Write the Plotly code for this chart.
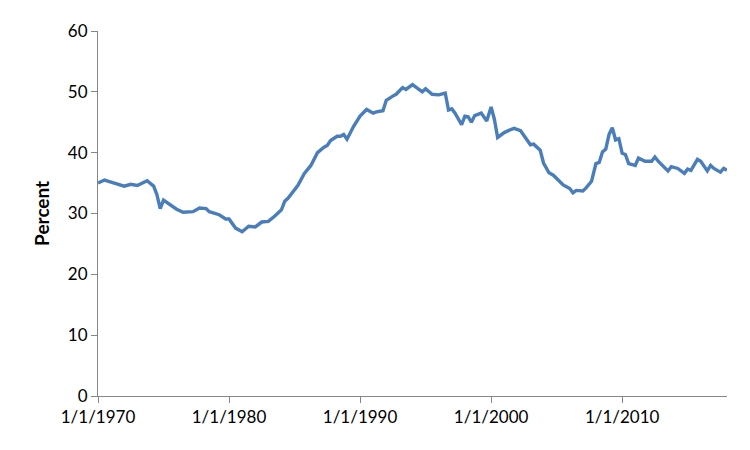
import plotly.graph_objects as go

dates = [
    "1970-01-01", "1970-07-01", "1971-04-01", "1972-01-01", "1972-07-01", "1973-01-01",
    "1973-10-01", "1974-04-01", "1974-07-01", "1974-10-01", "1975-01-01", "1975-07-01",
    "1976-01-01", "1976-07-01", "1977-04-01", "1977-10-01", "1978-04-01", "1978-07-01",
    "1979-04-01", "1979-10-01", "1980-01-01", "1980-07-01", "1981-01-01", "1981-07-01",
    "1982-01-01", "1982-07-01", "1983-01-01", "1983-07-01", "1984-01-01", "1984-04-01",
    "1984-07-01", "1985-04-01", "1985-07-01", "1985-10-01", "1986-04-01", "1986-10-01",
    "1987-04-01", "1987-07-01", "1987-10-01", "1988-04-01", "1988-07-01", "1988-10-01",
    "1989-01-01", "1989-04-01", "1989-07-01", "1990-01-01", "1990-07-01", "1991-01-01",
    "1991-04-01", "1991-10-01", "1992-01-01", "1992-07-01", "1992-10-01", "1993-04-01",
    "1993-07-01", "1994-01-01", "1994-04-01", "1994-10-01", "1995-01-01", "1995-07-01",
    "1996-01-01", "1996-07-01", "1996-10-01", "1997-01-01", "1997-04-01", "1997-07-01",
    "1997-10-01", "1998-01-01", "1998-04-01", "1998-07-01", "1998-10-01", "1999-04-01",
    "1999-09-01", "2000-01-01", "2000-04-01", "2000-07-01", "2001-01-01", "2001-07-01",
    "2001-10-01", "2002-04-01", "2002-07-01", "2003-01-01", "2003-04-01", "2003-10-01",
    "2004-01-01", "2004-06-01", "2004-10-01", "2005-01-01", "2005-07-01", "2006-01-01",
    "2006-04-01", "2006-07-01", "2007-01-01", "2007-04-01", "2007-09-01", "2008-01-01",
    "2008-04-01", "2008-07-01", "2008-10-01", "2009-01-01", "2009-04-01", "2009-07-01",
    "2009-10-01", "2010-01-01", "2010-04-01", "2010-07-01", "2011-01-01", "2011-04-01",
    "2011-10-01", "2012-04-01", "2012-07-01", "2012-10-01", "2013-07-01", "2013-10-01",
    "2014-04-01", "2014-10-01", "2015-01-01", "2015-04-01", "2015-10-01", "2016-01-01",
    "2016-07-01", "2016-10-01", "2017-01-01", "2017-07-01", "2017-10-01", "2018-01-01",
]

percent = [
    35.0, 35.5, 35.0, 34.5, 34.8, 34.6,
    35.4, 34.5, 33.1, 30.8, 32.2, 31.5,
    30.7, 30.2, 30.3, 30.9, 30.8, 30.3,
    29.8, 29.1, 29.1, 27.6, 27.0, 27.9,
    27.8, 28.6, 28.7, 29.6, 30.6, 32.0,
    32.5, 34.6, 35.5, 36.6, 37.9, 40.0,
    40.9, 41.2, 42.0, 42.7, 42.7, 43.0,
    42.2, 43.2, 44.3, 46.0, 47.1, 46.5,
    46.7, 46.9, 48.6, 49.3, 49.6, 50.7,
    50.4, 51.2, 50.8, 50.0, 50.5, 49.6,
    49.5, 49.8, 47.0, 47.2, 46.5, 45.5,
    44.6, 46.0, 45.9, 45.0, 46.1, 46.5,
    45.2, 47.5, 45.5, 42.5, 43.3, 43.8,
    44.0, 43.6, 42.8, 41.3, 41.4, 40.4,
    38.3, 36.7, 36.3, 35.7, 34.7, 34.1,
    33.4, 33.8, 33.7, 34.2, 35.3, 38.2,
    38.4, 40.1, 40.6, 43.0, 44.1, 42.1,
    42.3, 39.9, 39.7, 38.2, 37.9, 39.1,
    38.6, 38.6, 39.3, 38.6, 37.0, 37.7,
    37.4, 36.6, 37.3, 37.1, 38.9, 38.6,
    37.0, 37.9, 37.4, 36.8, 37.4, 37.1,
]

x_tick_vals = ["1970-01-01", "1980-01-01", "1990-01-01", "2000-01-01", "2010-01-01"]
x_tick_text = ["1/1/1970", "1/1/1980", "1/1/1990", "1/1/2000", "1/1/2010"]
y_tick_vals = [0, 10, 20, 30, 40, 50, 60]

FONT = "Lato, 'Liberation Sans', sans-serif"
AXIS = "#868686"

fig = go.Figure(
    go.Scatter(
        x=dates, y=percent, mode="lines",
        line=dict(color="#4A7EBB", width=3.4),
        showlegend=False,
    )
)

fig.update_layout(
    width=734, height=434,
    margin=dict(l=90, r=15, t=15, b=46),
    paper_bgcolor="white", plot_bgcolor="white",
    font=dict(family=FONT, size=17, color="#000000"),
    xaxis=dict(
        type="date",
        range=["1970-01-01", "2018-01-01"],
        tickvals=x_tick_vals, ticktext=x_tick_text,
        ticks="outside", ticklen=6, tickcolor=AXIS, tickwidth=1,
        showline=True, linecolor=AXIS, linewidth=1,
        showgrid=False, zeroline=False,
        tickfont=dict(family=FONT, size=17),
    ),
    yaxis=dict(
        range=[0, 60],
        tickvals=y_tick_vals,
        ticks="outside", ticklen=6, tickcolor=AXIS, tickwidth=1,
        showline=True, linecolor=AXIS, linewidth=1,
        showgrid=False, zeroline=False,
        tickfont=dict(family=FONT, size=17),
    ),
    annotations=[
        dict(
            text="<b>Percent</b>", textangle=-90,
            xref="paper", yref="paper",
            x=-0.090, y=0.5, xanchor="center", yanchor="middle",
            showarrow=False, font=dict(family=FONT, size=19, color="#000000"),
        )
    ],
)

fig.write_html("out.html")
